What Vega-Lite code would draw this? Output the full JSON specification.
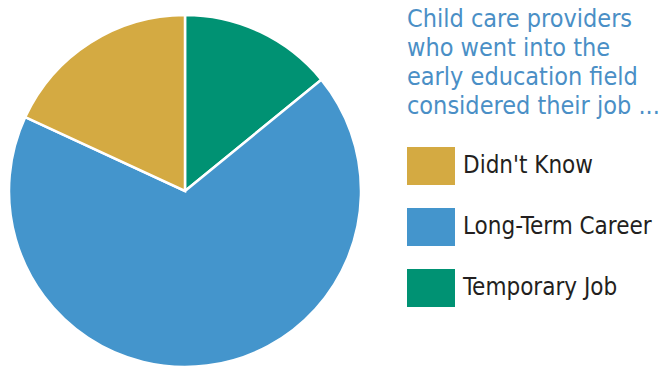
{
  "$schema": "https://vega.github.io/schema/vega-lite/v6.json",
  "width": 370,
  "height": 382,
  "autosize": {"type": "none"},
  "padding": {"left": 0, "top": 0, "right": 293, "bottom": 0},
  "background": "white",
  "data": {"values": [
    {"answer": "Temporary Job", "share": 14.1, "ord": 1},
    {"answer": "Long-Term Career", "share": 67.8, "ord": 2},
    {"answer": "Didn't Know", "share": 18.1, "ord": 3}
  ]},
  "mark": {"type": "arc", "radius": 176, "stroke": "white", "strokeWidth": 2.5},
  "encoding": {
    "theta": {"field": "share", "type": "quantitative", "stack": true},
    "order": {"field": "ord", "type": "quantitative"},
    "color": {
      "field": "answer",
      "type": "nominal",
      "scale": {
        "domain": ["Didn't Know", "Long-Term Career", "Temporary Job"],
        "range": ["#D4AA42", "#4495CC", "#009273"]
      },
      "legend": {
        "orient": "none",
        "legendX": 407,
        "legendY": 7,
        "title": ["Child care providers", "who went into the", "early education field", "considered their job ..."],
        "titleFont": "DejaVu Sans Condensed, Roboto, sans-serif",
        "titleFontSize": 25,
        "titleFontWeight": "normal",
        "titleColor": "#4A8FC6",
        "titleLineHeight": 29,
        "titlePadding": 23,
        "titleLimit": 400,
        "symbolType": "M-1,-0.79H1V0.79H-1Z",
        "symbolSize": 2304,
        "symbolStrokeWidth": 0,
        "symbolOpacity": 1,
        "labelFont": "DejaVu Sans Condensed, Roboto, sans-serif",
        "labelFontSize": 24,
        "labelColor": "#231F20",
        "labelOffset": 8,
        "labelLimit": 400,
        "rowPadding": 18
      }
    }
  }
}
